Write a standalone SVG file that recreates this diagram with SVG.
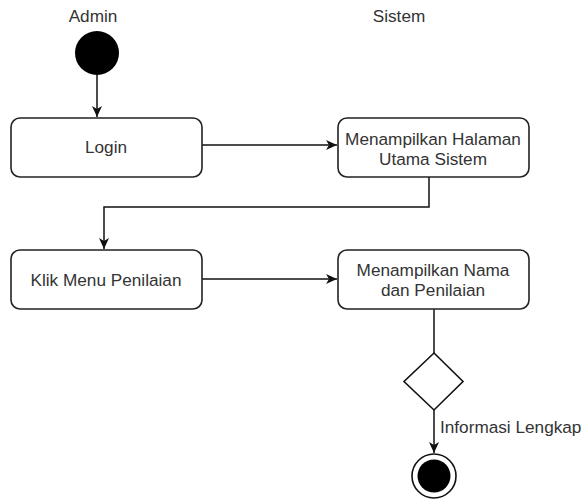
<svg xmlns="http://www.w3.org/2000/svg" width="586" height="499" viewBox="0 0 586 499">
<style>
  .box{fill:#fff;stroke:#222;stroke-width:1.6}
  .t{font-family:"Liberation Sans",Arial,sans-serif;font-size:17.2px;fill:#333;text-anchor:middle}
  .edge{fill:none;stroke:#111;stroke-width:1.5}
</style>
<defs>
  <marker id="arr" viewBox="0 0 12 12" refX="11" refY="6" markerWidth="12" markerHeight="12" markerUnits="userSpaceOnUse" orient="auto">
    <path d="M0,1 L11,6 L0,11 L3,6 Z" fill="#111"/>
  </marker>
</defs>
<rect width="586" height="499" fill="#fff"/>
<text class="t" x="93" y="22">Admin</text>
<text class="t" x="399" y="22">Sistem</text>

<g id="connectors">
  <path class="edge" d="M97,75 L97,117" marker-end="url(#arr)"/>
  <path class="edge" d="M202,145 L337,145" marker-end="url(#arr)"/>
  <path class="edge" d="M429,177 L429,207 L104,207 L104,249" marker-end="url(#arr)"/>
  <path class="edge" d="M202,279 L337,279" marker-end="url(#arr)"/>
  <path class="edge" d="M434,309 L434,353"/>
  <path class="edge" d="M434,410 L434,453" marker-end="url(#arr)"/>
  <text class="t" x="440" y="433" style="text-anchor:start">Informasi Lengkap</text>
</g>

<g id="start">
  <circle cx="97" cy="53" r="22" fill="#000"/>
</g>
<g id="login">
  <rect class="box" x="11" y="118" width="191" height="59" rx="9"/>
  <text class="t" x="106" y="153">Login</text>
</g>
<g id="halaman">
  <rect class="box" x="338" y="118" width="191" height="59" rx="9"/>
  <text class="t" x="433" y="145">Menampilkan Halaman</text>
  <text class="t" x="433" y="165">Utama Sistem</text>
</g>
<g id="klik">
  <rect class="box" x="11" y="250" width="191" height="59" rx="9"/>
  <text class="t" x="106" y="286">Klik Menu Penilaian</text>
</g>
<g id="nama">
  <rect class="box" x="338" y="250" width="191" height="59" rx="9"/>
  <text class="t" x="433" y="276">Menampilkan Nama</text>
  <text class="t" x="433" y="296">dan Penilaian</text>
</g>
<g id="decision">
  <polygon points="434,353 463,381.5 434,410 404,381.5" fill="#fff" stroke="#111" stroke-width="1.6"/>
</g>
<g id="end">
  <circle cx="434" cy="476" r="22" fill="#fff" stroke="#111" stroke-width="1.6"/>
  <circle cx="434" cy="476" r="16.5" fill="#000"/>
</g>
</svg>
